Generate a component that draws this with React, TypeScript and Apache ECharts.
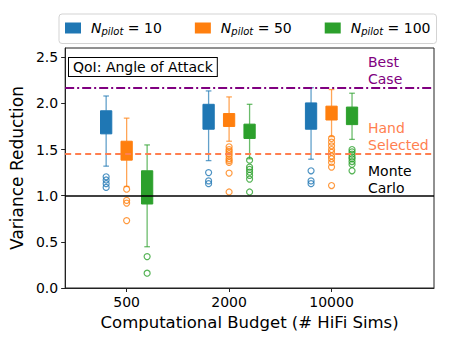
import React, { useEffect, useRef } from "react";
import * as echarts from "echarts";

const categories = ["500", "2000", "10000"];
const pilotSizes = ["10", "50", "100"];
const colors = ["#1f77b4", "#ff7f0e", "#2ca02c"];
const whiskerColors = ["rgba(31,119,180,0.7)", "rgba(255,127,14,0.7)", "rgba(44,160,44,0.7)"];

// per budget: [lower whisker, Q1, Q3, upper whisker]
const n10Boxes = [
  [1.32, 1.67, 1.92, 2.08],
  [1.38, 1.72, 1.99, 2.135],
  [1.395, 1.72, 2.005, 2.17],
];
const n50Boxes = [
  [1.1, 1.385, 1.59, 1.84],
  [1.59, 1.75, 1.89, 2.07],
  [1.64, 1.82, 1.97, 2.15],
];
const n100Boxes = [
  [0.447, 0.91, 1.27, 1.55],
  [1.4, 1.62, 1.775, 1.99],
  [1.61, 1.77, 1.96, 2.11],
];

const n10Outliers = [
  [1.205, 1.17, 1.13, 1.09],
  [1.25, 1.16, 1.13],
  [1.27, 1.16, 1.13],
];
const n50Outliers = [
  [1.07, 0.95, 0.92, 0.73],
  [1.53, 1.5, 1.48, 1.455, 1.43, 1.4, 1.38, 1.36, 1.245, 1.04],
  [1.62, 1.58, 1.54, 1.5, 1.47, 1.43, 1.4, 1.36, 1.31, 1.11],
];
const n100Outliers = [
  [0.34, 0.16],
  [1.385, 1.31, 1.285, 1.255, 1.22, 1.18, 1.04],
  [1.5, 1.475, 1.45, 1.42, 1.4, 1.37, 1.34, 1.27],
];

const bestCase = 2.175;
const handSelected = 1.45;
const monteCarlo = 1.0;

const yTicks = [0, 0.5, 1, 1.5, 2, 2.5];

const allBoxes = [n10Boxes, n50Boxes, n100Boxes];
const allOutliers = [n10Outliers, n50Outliers, n100Outliers];
const groupOffsets = [-0.2, 0, 0.2];
const boxWidth = 0.11;
const capWidth = 0.055;
const FONT = "DejaVu Sans";

export default function App() {
  const ref = useRef<HTMLDivElement>(null);
  useEffect(() => {
    if (!ref.current) return;
    const chart = echarts.init(ref.current, null, { renderer: "svg" });

    const boxSeries = allBoxes.map((boxes, g) => ({
      type: "custom",
      name: pilotSizes[g],
      z: 3,
      itemStyle: { color: colors[g] },
      encode: { x: 0, y: [1, 2, 3, 4] },
      data: boxes.map((b, c) => [c, ...b]),
      renderItem: (params: any, api: any) => {
        const x = api.value(0) + groupOffsets[g];
        const lo = api.coord([x, api.value(1)]);
        const q1 = api.coord([x, api.value(2)]);
        const q3 = api.coord([x, api.value(3)]);
        const hi = api.coord([x, api.value(4)]);
        const bw = api.size([boxWidth, 0])[0];
        const cw = api.size([capWidth, 0])[0];
        const ws = { stroke: whiskerColors[g], lineWidth: 1.3 };
        return {
          type: "group",
          children: [
            { type: "line", shape: { x1: lo[0], y1: lo[1], x2: q1[0], y2: q1[1] }, style: ws },
            { type: "line", shape: { x1: hi[0], y1: hi[1], x2: q3[0], y2: q3[1] }, style: ws },
            { type: "line", shape: { x1: lo[0] - cw / 2, y1: lo[1], x2: lo[0] + cw / 2, y2: lo[1] }, style: ws },
            { type: "line", shape: { x1: hi[0] - cw / 2, y1: hi[1], x2: hi[0] + cw / 2, y2: hi[1] }, style: ws },
            {
              type: "rect",
              shape: { x: q3[0] - bw / 2, y: q3[1], width: bw, height: q1[1] - q3[1] },
              style: { fill: colors[g], stroke: colors[g], lineWidth: 1 },
            },
          ],
        };
      },
    }));

    const outlierSeries = allOutliers.map((outs, g) => ({
      type: "scatter",
      name: "out" + g,
      z: 4,
      symbol: "circle",
      symbolSize: 6,
      itemStyle: { color: "rgba(0,0,0,0)", borderColor: colors[g], borderWidth: 1.2 },
      data: outs.flatMap((vals, c) => vals.map((v) => [c + groupOffsets[g], v])),
    }));

    const refSeries = {
      type: "line",
      name: "ref",
      z: 10,
      data: [],
      markLine: {
        silent: true,
        symbol: "none",
        label: { show: false },
        z: 10,
        data: [
          { yAxis: bestCase, lineStyle: { color: "#800080", width: 2, type: [9, 3, 2, 3] } },
          { yAxis: handSelected, lineStyle: { color: "#ff7f50", width: 2, type: [6, 4] } },
          { yAxis: monteCarlo, lineStyle: { color: "#000000", width: 1.5, type: "solid" } },
        ],
      },
    };

    chart.setOption({
      animation: false,
      textStyle: { fontFamily: FONT },
      grid: { left: 62, right: 23, top: 48, bottom: 54, show: true, borderColor: "#222", borderWidth: 1 },
      legend: {
        data: pilotSizes.map((n, g) => ({ name: n, itemStyle: { color: colors[g] } })),
        left: 59,
        top: 14,
        icon: "rect",
        itemWidth: 16,
        itemHeight: 11,
        itemGap: 33,
        padding: [7, 6, 7, 6],
        borderColor: "#d3d3d3",
        borderWidth: 1,
        borderRadius: 3,
        selectedMode: false,
        formatter: (name: string) => `{i|N}{s|pilot}{t| = ${name}}`,
        textStyle: {
          color: "#000",
          fontFamily: FONT,
          rich: {
            i: { fontSize: 14, fontStyle: "italic", fontFamily: FONT, color: "#000", padding: [0, 0, 0, 5] },
            s: { fontSize: 10, fontStyle: "italic", fontFamily: FONT, color: "#000", padding: [7, 0, 0, 0] },
            t: { fontSize: 14, fontFamily: FONT, color: "#000" },
          },
        },
      },
      xAxis: {
        type: "value",
        min: -0.6,
        max: 3.0,
        splitLine: { show: false },
        axisLine: { show: true, onZero: false, lineStyle: { color: "#222", width: 1 } },
        axisTick: { show: true, length: 4, customValues: [0, 1, 2], lineStyle: { color: "#222" } },
        axisLabel: {
          customValues: [0, 1, 2],
          formatter: (v: number) => categories[Math.round(v)] ?? "",
          fontSize: 14,
          color: "#000",
          margin: 7,
          fontFamily: FONT,
        },
        name: "Computational Budget (# HiFi Sims)",
        nameLocation: "middle",
        nameGap: 26,
        nameTextStyle: { fontSize: 16.5, color: "#000", fontFamily: FONT },
      },
      yAxis: {
        type: "value",
        min: 0,
        max: 2.6,
        splitLine: { show: false },
        axisLine: { show: true, onZero: false, lineStyle: { color: "#222", width: 1 } },
        axisTick: { show: true, length: 4, customValues: yTicks, lineStyle: { color: "#222" } },
        axisLabel: {
          customValues: yTicks,
          formatter: (v: number) => v.toFixed(1),
          fontSize: 14,
          color: "#000",
          margin: 7,
          fontFamily: FONT,
        },
        name: "Variance Reduction",
        nameLocation: "middle",
        nameGap: 38,
        nameTextStyle: { fontSize: 17, color: "#000", fontFamily: FONT },
      },
      graphic: [
        {
          type: "text",
          left: 68,
          top: 57,
          z: 20,
          style: {
            text: "QoI: Angle of Attack",
            fontSize: 14,
            fontFamily: FONT,
            fill: "#000",
            backgroundColor: "#fff",
            borderColor: "#000",
            borderWidth: 1,
            padding: [2, 4, 2, 4],
          },
        },
        {
          type: "text",
          left: 368,
          top: 53,
          z: 20,
          style: { text: "Best\nCase", fontSize: 14, lineHeight: 17, fontFamily: FONT, fill: "#800080" },
        },
        {
          type: "text",
          left: 368,
          top: 119,
          z: 20,
          style: { text: "Hand\nSelected", fontSize: 14, lineHeight: 17, fontFamily: FONT, fill: "#ff7f50" },
        },
        {
          type: "text",
          left: 368,
          top: 162,
          z: 20,
          style: { text: "Monte\nCarlo", fontSize: 14, lineHeight: 17, fontFamily: FONT, fill: "#000" },
        },
      ],
      series: [...boxSeries, ...outlierSeries, refSeries],
    });

    return () => chart.dispose();
  }, []);

  return <div ref={ref} style={{ width: 457, height: 342, margin: -8 }} />;
}
